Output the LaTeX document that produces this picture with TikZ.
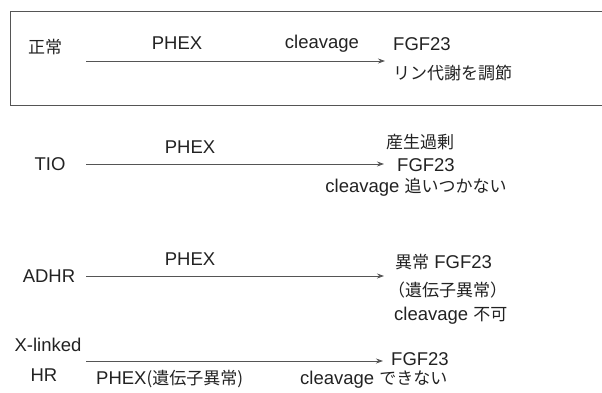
\documentclass[tikz,border=0pt]{standalone}
\usepackage{fontspec}
\setmainfont{Liberation Sans}
\newfontfamily\jpfont{Noto Sans CJK JP}
\newcommand{\jtext}[1]{{\jpfont\fontsize{17}{20}\selectfont #1}}
\usetikzlibrary{arrows.meta}
\definecolor{ink}{HTML}{222222}
\definecolor{linegray}{HTML}{555555}
\begin{document}
\begin{tikzpicture}[x=1pt,y=-1pt,
  lbl/.style={inner sep=0pt,text=ink,font=\fontsize{18.5}{21}\selectfont},
  lw/.style={lbl,anchor=west},
  flow/.style={draw=linegray,line width=0.8pt,-{Stealth[length=7pt,width=5pt]}},
  frame/.style={draw=linegray,line width=0.9pt}]
\useasboundingbox (0,0) rectangle (602,393);
% frame (open on the right)
\draw[frame] (605,11) -- (10,11) -- (10,105) -- (605,105);
% row 1
\node[lbl] (n1) at (45,47) {\jtext{正常}};
\coordinate (s1) at (86,61);
\coordinate (e1) at (385,61);
\draw[flow] (s1) -- (e1);
\node[lbl] (p1) at (177,43) {PHEX};
\node[lbl] (c1) at (322,44) {cleavage};
\node[lw] (f1) at (393,44) {FGF23};
\node[lw] (r1) at (393,73) {\jtext{リン代謝を調節}};
% row 2
\node[lbl] (n2) at (50,164) {TIO};
\coordinate (s2) at (86,164);
\coordinate (e2) at (384,164);
\draw[flow] (s2) -- (e2);
\node[lbl] (p2) at (190,147) {PHEX};
\node[lbl] (o2) at (420,142) {\jtext{産生過剰}};
\node[lw] (f2) at (397,165) {FGF23};
\node[lbl] (c2) at (416,187) {cleavage \jtext{追いつかない}};
% row 3
\node[lbl] (n3) at (49,276) {ADHR};
\coordinate (s3) at (86,276);
\coordinate (e3) at (384,276);
\draw[flow] (s3) -- (e3);
\node[lbl] (p3) at (190,259) {PHEX};
\node[lw] (a3) at (395,262) {\jtext{異常} FGF23};
\node[lw] (g3) at (388,290) {\jtext{（遺伝子異常）}};
\node[lw] (c3) at (394,316) {cleavage \jtext{不可}};
% row 4
\node[lbl] (n4a) at (48,345) {X-linked};
\node[lbl] (n4b) at (44,375) {HR};
\coordinate (s4) at (86,361);
\coordinate (e4) at (383,361);
\draw[flow] (s4) -- (e4);
\node[lw] (f4) at (391,359) {FGF23};
\node[lw] (p4) at (96,379) {PHEX\jtext{(遺伝子異常)}};
\node[lw] (c4) at (300,380) {cleavage \jtext{できない}};
\end{tikzpicture}
\end{document}
